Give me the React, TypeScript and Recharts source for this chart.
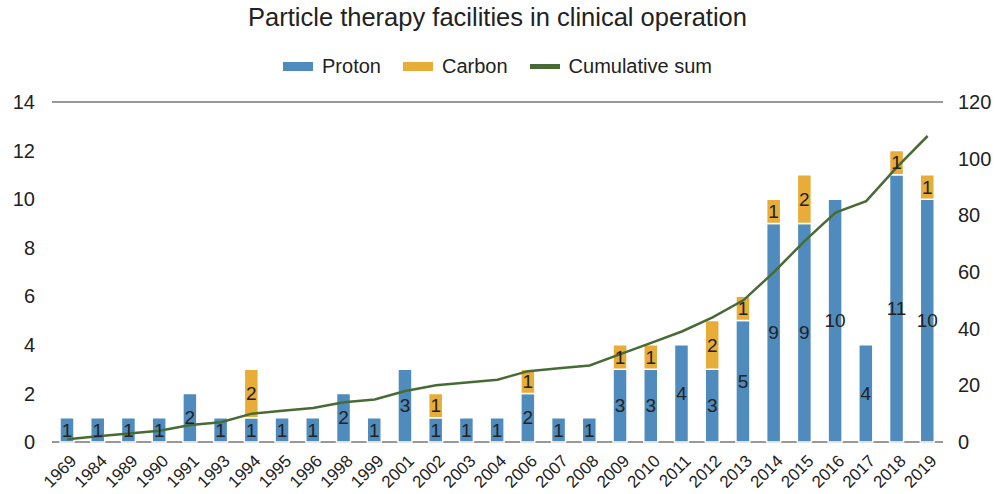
import React from 'react'
import {
  ComposedChart,
  Bar,
  Line,
  XAxis,
  YAxis,
  CartesianGrid,
  LabelList,
} from 'recharts'

// Data
const years = [
  '1969', '1984', '1989', '1990', '1991', '1993', '1994', '1995', '1996', '1998',
  '1999', '2001', '2002', '2003', '2004', '2006', '2007', '2008', '2009', '2010',
  '2011', '2012', '2013', '2014', '2015', '2016', '2017', '2018', '2019',
]
const proton = [1, 1, 1, 1, 2, 1, 1, 1, 1, 2, 1, 3, 1, 1, 1, 2, 1, 1, 3, 3, 4, 3, 5, 9, 9, 10, 4, 11, 10]
const carbon = [0, 0, 0, 0, 0, 0, 2, 0, 0, 0, 0, 0, 1, 0, 0, 1, 0, 0, 1, 1, 0, 2, 1, 1, 2, 0, 0, 1, 1]
const cumulative = [1, 2, 3, 4, 6, 7, 10, 11, 12, 14, 15, 18, 20, 21, 22, 25, 26, 27, 31, 35, 39, 44, 50, 60, 71, 81, 85, 97, 108]
const leftTicks = [0, 2, 4, 6, 8, 10, 12, 14]
const rightTicks = [0, 20, 40, 60, 80, 100, 120]

const BLUE = '#4f8bbd'
const ORANGE = '#e8ad38'
const GREEN = '#486b35'
const FONT = '"Liberation Sans", Arial, sans-serif'

const data = years.map((year, i) => ({
  year,
  proton: proton[i],
  carbon: carbon[i],
  cumulative: cumulative[i],
}))

const legendItems = [
  { name: 'Proton', color: BLUE, line: false },
  { name: 'Carbon', color: ORANGE, line: false },
  { name: 'Cumulative sum', color: GREEN, line: true },
]

/** Rotated year label under each bar */
function YearTick({ x, y, payload }: { x?: number; y?: number; payload?: { value: string } }) {
  const tx = (x ?? 0) + 10
  const ty = (y ?? 0) + 20
  return (
    <text
      x={tx}
      y={ty}
      transform={`rotate(-45, ${tx}, ${ty})`}
      textAnchor="end"
      fontSize={17}
      fill="#222"
      fontFamily={FONT}
    >
      {payload?.value}
    </text>
  )
}

const hideZero = (v: unknown) => (v ? String(v) : '')

export default function App() {
  return (
    <div
      style={{
        position: 'absolute',
        left: 0,
        top: 0,
        width: 995,
        height: 494,
        background: '#fff',
        fontFamily: FONT,
      }}
    >
      <div
        style={{
          position: 'absolute',
          top: 3,
          left: 0,
          width: 995,
          textAlign: 'center',
          fontSize: 25.5,
          color: '#222',
        }}
      >
        Particle therapy facilities in clinical operation
      </div>

      <div
        style={{
          position: 'absolute',
          top: 55,
          left: 0,
          width: 995,
          display: 'flex',
          justifyContent: 'center',
          alignItems: 'center',
          fontSize: 20,
          color: '#222',
        }}
      >
        {legendItems.map((item) => (
          <div key={item.name} style={{ display: 'flex', alignItems: 'center', margin: '0 11px' }}>
            <span
              style={{
                display: 'inline-block',
                width: 30,
                height: item.line ? 5 : 9,
                background: item.color,
                marginRight: 9,
              }}
            />
            <span>{item.name}</span>
          </div>
        ))}
      </div>

      <ComposedChart
        width={995}
        height={494}
        data={data}
        margin={{ top: 102, right: 0, bottom: 0, left: 0 }}
        style={{ position: 'absolute', left: 0, top: 0 }}
      >
        <CartesianGrid vertical={false} stroke="#333" strokeWidth={1} />
        <XAxis
          dataKey="year"
          interval={0}
          axisLine={false}
          tickLine={false}
          tickSize={0}
          tickMargin={0}
          height={52}
          tick={<YearTick />}
        />
        <YAxis
          yAxisId="left"
          domain={[0, 14]}
          ticks={leftTicks}
          width={52}
          axisLine={false}
          tickLine={false}
          tickSize={0}
          tickMargin={17}
          tick={{ fontSize: 20, fill: '#222', fontFamily: FONT }}
        />
        <YAxis
          yAxisId="right"
          orientation="right"
          domain={[0, 120]}
          ticks={rightTicks}
          width={52}
          axisLine={false}
          tickLine={false}
          tickSize={0}
          tickMargin={15}
          tick={{ fontSize: 20, fill: '#222', fontFamily: FONT, textAnchor: 'start' }}
        />
        <Bar
          yAxisId="left"
          dataKey="proton"
          name="Proton"
          stackId="a"
          barSize={14}
          fill={BLUE}
          stroke="#fff"
          strokeWidth={1.5}
          isAnimationActive={false}
        >
          <LabelList dataKey="proton" position="center" fill="#222" fontSize={19} fontFamily={FONT} formatter={hideZero} />
        </Bar>
        <Bar
          yAxisId="left"
          dataKey="carbon"
          name="Carbon"
          stackId="a"
          barSize={14}
          fill={ORANGE}
          stroke="#fff"
          strokeWidth={1.5}
          isAnimationActive={false}
        >
          <LabelList dataKey="carbon" position="center" fill="#222" fontSize={19} fontFamily={FONT} formatter={hideZero} />
        </Bar>
        <Line
          yAxisId="right"
          type="linear"
          dataKey="cumulative"
          name="Cumulative sum"
          stroke={GREEN}
          strokeWidth={2.5}
          dot={false}
          isAnimationActive={false}
        />
      </ComposedChart>
    </div>
  )
}
